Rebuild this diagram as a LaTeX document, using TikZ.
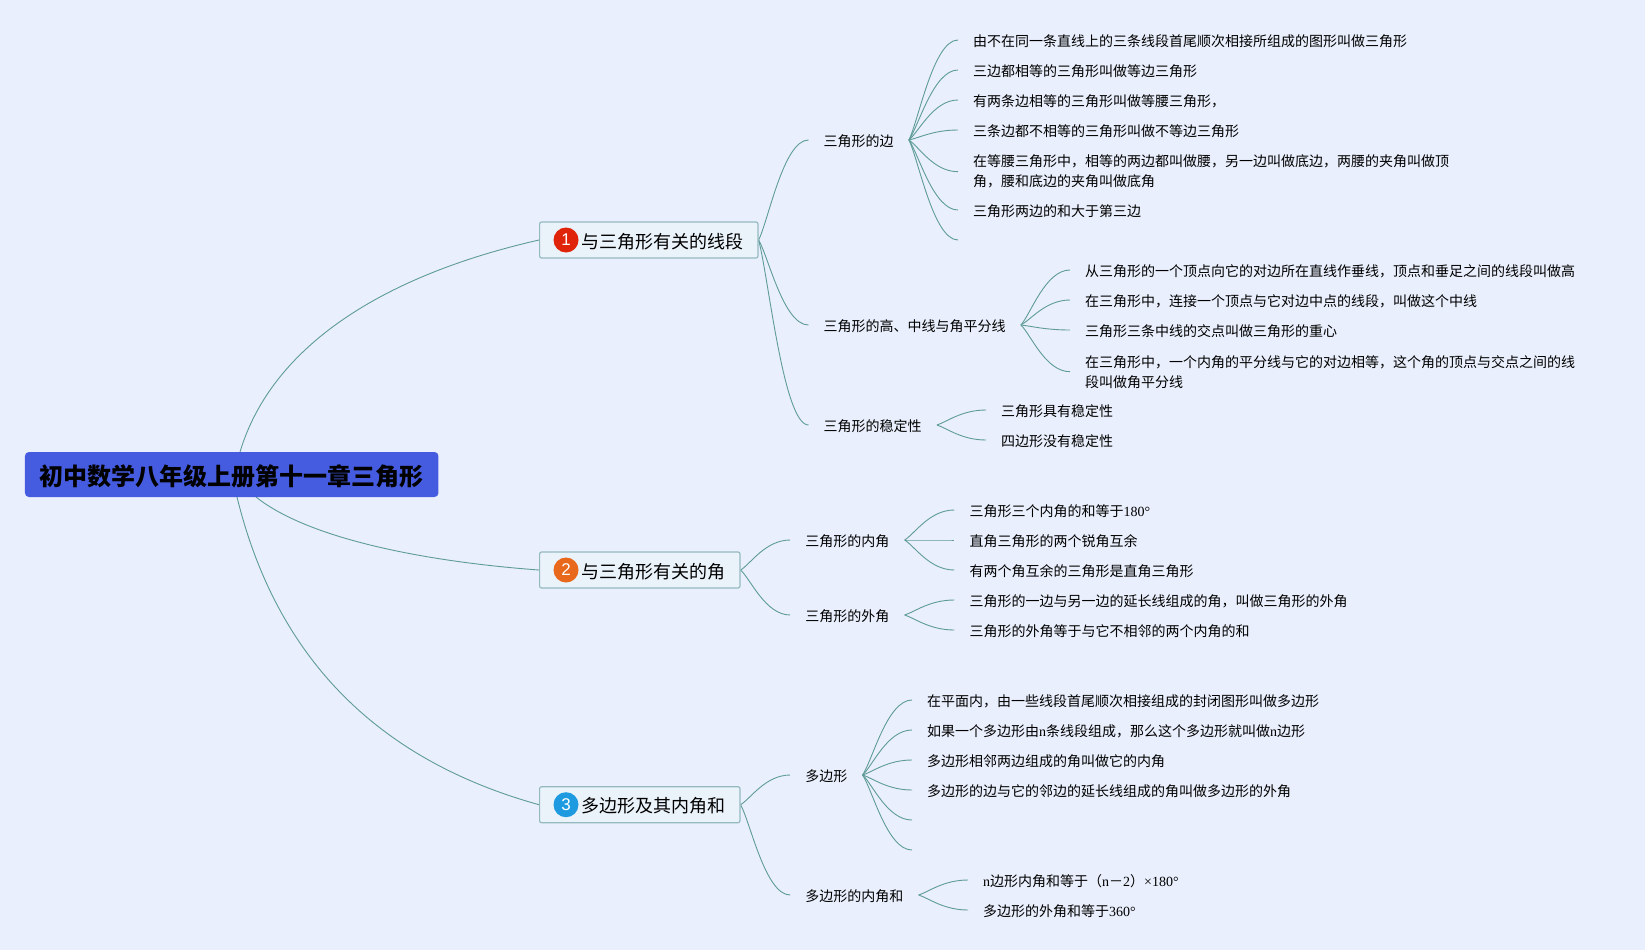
\documentclass[tikz,border=0pt]{standalone}
\usepackage{fontspec}
\usetikzlibrary{calc}
\setmainfont{Noto Sans CJK SC}
\newfontfamily\lat{Liberation Serif}
\newfontfamily\dig{Liberation Sans}
\definecolor{paper}{HTML}{E9EFFC}
\definecolor{rootblue}{HTML}{465CE0}
\definecolor{stem}{HTML}{5F9C97}
\definecolor{rimcol}{HTML}{94BAC0}
\definecolor{boxcol}{HTML}{EAF2FA}
\definecolor{badgea}{HTML}{E0240A}
\definecolor{badgeb}{HTML}{E8681C}
\definecolor{badgec}{HTML}{1E9BE0}
\pgfdeclarelayer{bg}
\pgfsetlayers{bg,main}
\tikzset{
  rootbox/.style={fill=rootblue,rounded corners=4pt,minimum width=413.5pt,minimum height=45pt,inner sep=0pt,text height=24pt,text depth=2.8pt,font=\fontsize{24}{28}\selectfont\bfseries},
  mainbox/.style={draw=rimcol,fill=boxcol,line width=1.2pt,rounded corners=2pt,anchor=west,minimum height=36pt,inner xsep=14.5pt,inner ysep=0pt,text height=18.4pt,text depth=2.2pt,font=\fontsize{18}{22}\selectfont},
  badge/.style={circle,minimum size=25pt,inner sep=0pt,text=white,font=\dig\fontsize{17}{17}\selectfont},
  topic/.style={anchor=west,inner xsep=15pt,inner ysep=0pt,text height=16.2pt,text depth=2.6pt,font=\fontsize{14}{20}\selectfont},
  twoline/.style={anchor=west,inner xsep=15pt,inner ysep=0pt,align=left,font=\fontsize{14}{20}\selectfont},
  stemline/.style={draw=stem,line width=0.9pt},
  branch/.style={stemline,to path={.. controls ($(\tikztostart)!0.2!(\tikztotarget)$) and ($(\tikztostart |- \tikztotarget)!0.5!(\tikztotarget)$) .. (\tikztotarget)}}
}
\begin{document}
\begin{tikzpicture}[x=1pt,y=-1pt]
        \useasboundingbox (0,0) rectangle (1645,950);
        \node (root) [rootbox] at (231.7,474.5) {初中数学八年级上册第十一章三角形};
        \coordinate (ra) at (240,452);
        \coordinate (rb) at (256,497);
        \coordinate (rc) at (237,497);
        \node (m1) [mainbox] at (539,240) {\hspace*{27.4pt}与三角形有关的线段};
        \node (m2) [mainbox] at (539,570) {\hspace*{27.4pt}与三角形有关的角};
        \node (m3) [mainbox] at (539,804.7) {\hspace*{27.4pt}多边形及其内角和};
        \node (n1) [badge,fill=badgea] at (566,240) {1};
        \node (n2) [badge,fill=badgeb] at (566,570) {2};
        \node (n3) [badge,fill=badgec] at (566,804.7) {3};
        \node (s1) [topic] at (808.5,140) {三角形的边};
        \node (s2) [topic] at (808.5,325) {三角形的高、中线与角平分线};
        \node (s3) [topic] at (808.5,425) {三角形的稳定性};
        \node (s4) [topic] at (790.2,540) {三角形的内角};
        \node (s5) [topic] at (790.2,615) {三角形的外角};
        \node (s6) [topic] at (790.2,775) {多边形};
        \node (s7) [topic] at (790.2,895) {多边形的内角和};
        \node (a1) [topic] at (958,40) {由不在同一条直线上的三条线段首尾顺次相接所组成的图形叫做三角形};
        \node (a2) [topic] at (958,70) {三边都相等的三角形叫做等边三角形};
        \node (a3) [topic] at (958,100) {有两条边相等的三角形叫做等腰三角形，};
        \node (a4) [topic] at (958,130) {三条边都不相等的三角形叫做不等边三角形};
        \node (a5) [twoline] at (958,171.7) {在等腰三角形中，相等的两边都叫做腰，另一边叫做底边，两腰的夹角叫做顶\\角，腰和底边的夹角叫做底角};
        \node (a6) [topic] at (958,210) {三角形两边的和大于第三边};
        \coordinate (a7) at (958,240);
        \node (b1) [topic] at (1070,270) {从三角形的一个顶点向它的对边所在直线作垂线，顶点和垂足之间的线段叫做高};
        \node (b2) [topic] at (1070,300) {在三角形中，连接一个顶点与它对边中点的线段，叫做这个中线};
        \node (b3) [topic] at (1070,330) {三角形三条中线的交点叫做三角形的重心};
        \node (b4) [twoline] at (1070,371.7) {在三角形中，一个内角的平分线与它的对边相等，这个角的顶点与交点之间的线\\段叫做角平分线};
        \node (c1) [topic] at (986,410) {三角形具有稳定性};
        \node (c2) [topic] at (986,440) {四边形没有稳定性};
        \node (d1) [topic] at (954.3,510) {三角形三个内角的和等于{\lat 180°}};
        \node (d2) [topic] at (954.3,540) {直角三角形的两个锐角互余};
        \node (d3) [topic] at (954.3,570) {有两个角互余的三角形是直角三角形};
        \node (e1) [topic] at (954.3,600) {三角形的一边与另一边的延长线组成的角，叫做三角形的外角};
        \node (e2) [topic] at (954.3,630) {三角形的外角等于与它不相邻的两个内角的和};
        \node (f1) [topic] at (912,700) {在平面内，由一些线段首尾顺次相接组成的封闭图形叫做多边形};
        \node (f2) [topic] at (912,730) {如果一个多边形由{\lat n}条线段组成，那么这个多边形就叫做{\lat n}边形};
        \node (f3) [topic] at (912,760) {多边形相邻两边组成的角叫做它的内角};
        \node (f4) [topic] at (912,790) {多边形的边与它的邻边的延长线组成的角叫做多边形的外角};
        \coordinate (f5) at (912,820);
        \coordinate (f6) at (912,850);
        \node (g1) [topic] at (968,880) {{\lat n}边形内角和等于（{\lat n}－{\lat 2}）{\lat ×180°}};
        \node (g2) [topic] at (968,910) {多边形的外角和等于{\lat 360°}};
        \begin{pgfonlayer}{bg}
                \fill [paper] (0,0) rectangle (1645,950);
                \draw [stemline] (ra) .. controls (272,345) and (385,275) .. (m1.west);
                \draw [stemline] (rb) .. controls (310,540) and (430,562) .. (m2.west);
                \draw [stemline] (rc) .. controls (272,640) and (360,755) .. (m3.west);
                \draw (m1.east) edge [branch] (s1.west);
                \draw (m1.east) edge [branch] (s2.west);
                \draw (m1.east) edge [branch] (s3.west);
                \draw (m2.east) edge [branch] (s4.west);
                \draw (m2.east) edge [branch] (s5.west);
                \draw (m3.east) edge [branch] (s6.west);
                \draw (m3.east) edge [branch] (s7.west);
                \draw (s1.east) edge [branch] (a1.west);
                \draw (s1.east) edge [branch] (a2.west);
                \draw (s1.east) edge [branch] (a3.west);
                \draw (s1.east) edge [branch] (a4.west);
                \draw (s1.east) edge [branch] (a5.west);
                \draw (s1.east) edge [branch] (a6.west);
                \draw (s1.east) edge [branch] (a7);
                \draw (s2.east) edge [branch] (b1.west);
                \draw (s2.east) edge [branch] (b2.west);
                \draw (s2.east) edge [branch] (b3.west);
                \draw (s2.east) edge [branch] (b4.west);
                \draw (s3.east) edge [branch] (c1.west);
                \draw (s3.east) edge [branch] (c2.west);
                \draw (s4.east) edge [branch] (d1.west);
                \draw (s4.east) edge [branch] (d2.west);
                \draw (s4.east) edge [branch] (d3.west);
                \draw (s5.east) edge [branch] (e1.west);
                \draw (s5.east) edge [branch] (e2.west);
                \draw (s6.east) edge [branch] (f1.west);
                \draw (s6.east) edge [branch] (f2.west);
                \draw (s6.east) edge [branch] (f3.west);
                \draw (s6.east) edge [branch] (f4.west);
                \draw (s6.east) edge [branch] (f5);
                \draw (s6.east) edge [branch] (f6);
                \draw (s7.east) edge [branch] (g1.west);
                \draw (s7.east) edge [branch] (g2.west);
        \end{pgfonlayer}
\end{tikzpicture}
\end{document}
